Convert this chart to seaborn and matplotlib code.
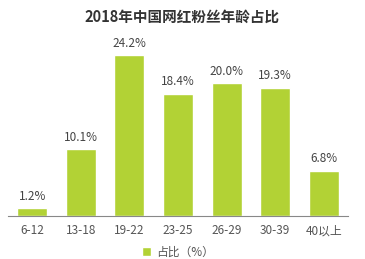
import matplotlib
matplotlib.use("Agg")
import matplotlib.pyplot as plt
import seaborn as sns
import pandas as pd

categories = ["6-12", "13-18", "19-22", "23-25", "26-29", "30-39", "40以上"]
values = [1.2, 10.1, 24.2, 18.4, 20.0, 19.3, 6.8]
labels = ["1.2%", "10.1%", "24.2%", "18.4%", "20.0%", "19.3%", "6.8%"]
title = "2018年中国网红粉丝年龄占比"
legend_label = "占比（%）"

sns.set_theme(style="white")
plt.rcParams['font.family'] = ['Noto Sans CJK SC', 'DejaVu Sans']

df = pd.DataFrame({"cat": categories, "val": values})
color = "#b2d235"

fig = plt.figure(figsize=(3.65, 2.59), dpi=100)
ax = fig.add_axes([8/365, 1 - 216/259, 340/365, 186/259])
sns.barplot(data=df, x="cat", y="val", color=color, width=0.62, ax=ax,
            saturation=1, label=legend_label)
ax.set_xlim(-0.5, 6.5)
ax.set_ylim(0, 186/6.65)
for i, (v, lab) in enumerate(zip(values, labels)):
    ax.text(i, v + 0.8, lab, ha="center", va="bottom", fontsize=8.5, color="#444444")
for s in ["top", "right", "left"]:
    ax.spines[s].set_visible(False)
ax.spines["bottom"].set_color("#888888")
ax.spines["bottom"].set_linewidth(0.8)
ax.set_yticks([])
ax.set_xlabel("")
ax.set_ylabel("")
ax.tick_params(axis="x", length=0, labelsize=8.5, labelcolor="#555555", pad=6)
fig.text(0.5, 1 - 17/259, title, ha="center", va="center", fontsize=10.5,
         fontweight="bold", color="#333333")
leg = ax.legend(loc="center", bbox_to_anchor=(0.5, (216 - 252) / 186 + 0), frameon=False,
                fontsize=8.5, handlelength=0.8, handleheight=0.8, handletextpad=0.4,
                labelcolor="#555555")
fig.savefig("out.png", dpi=100)
